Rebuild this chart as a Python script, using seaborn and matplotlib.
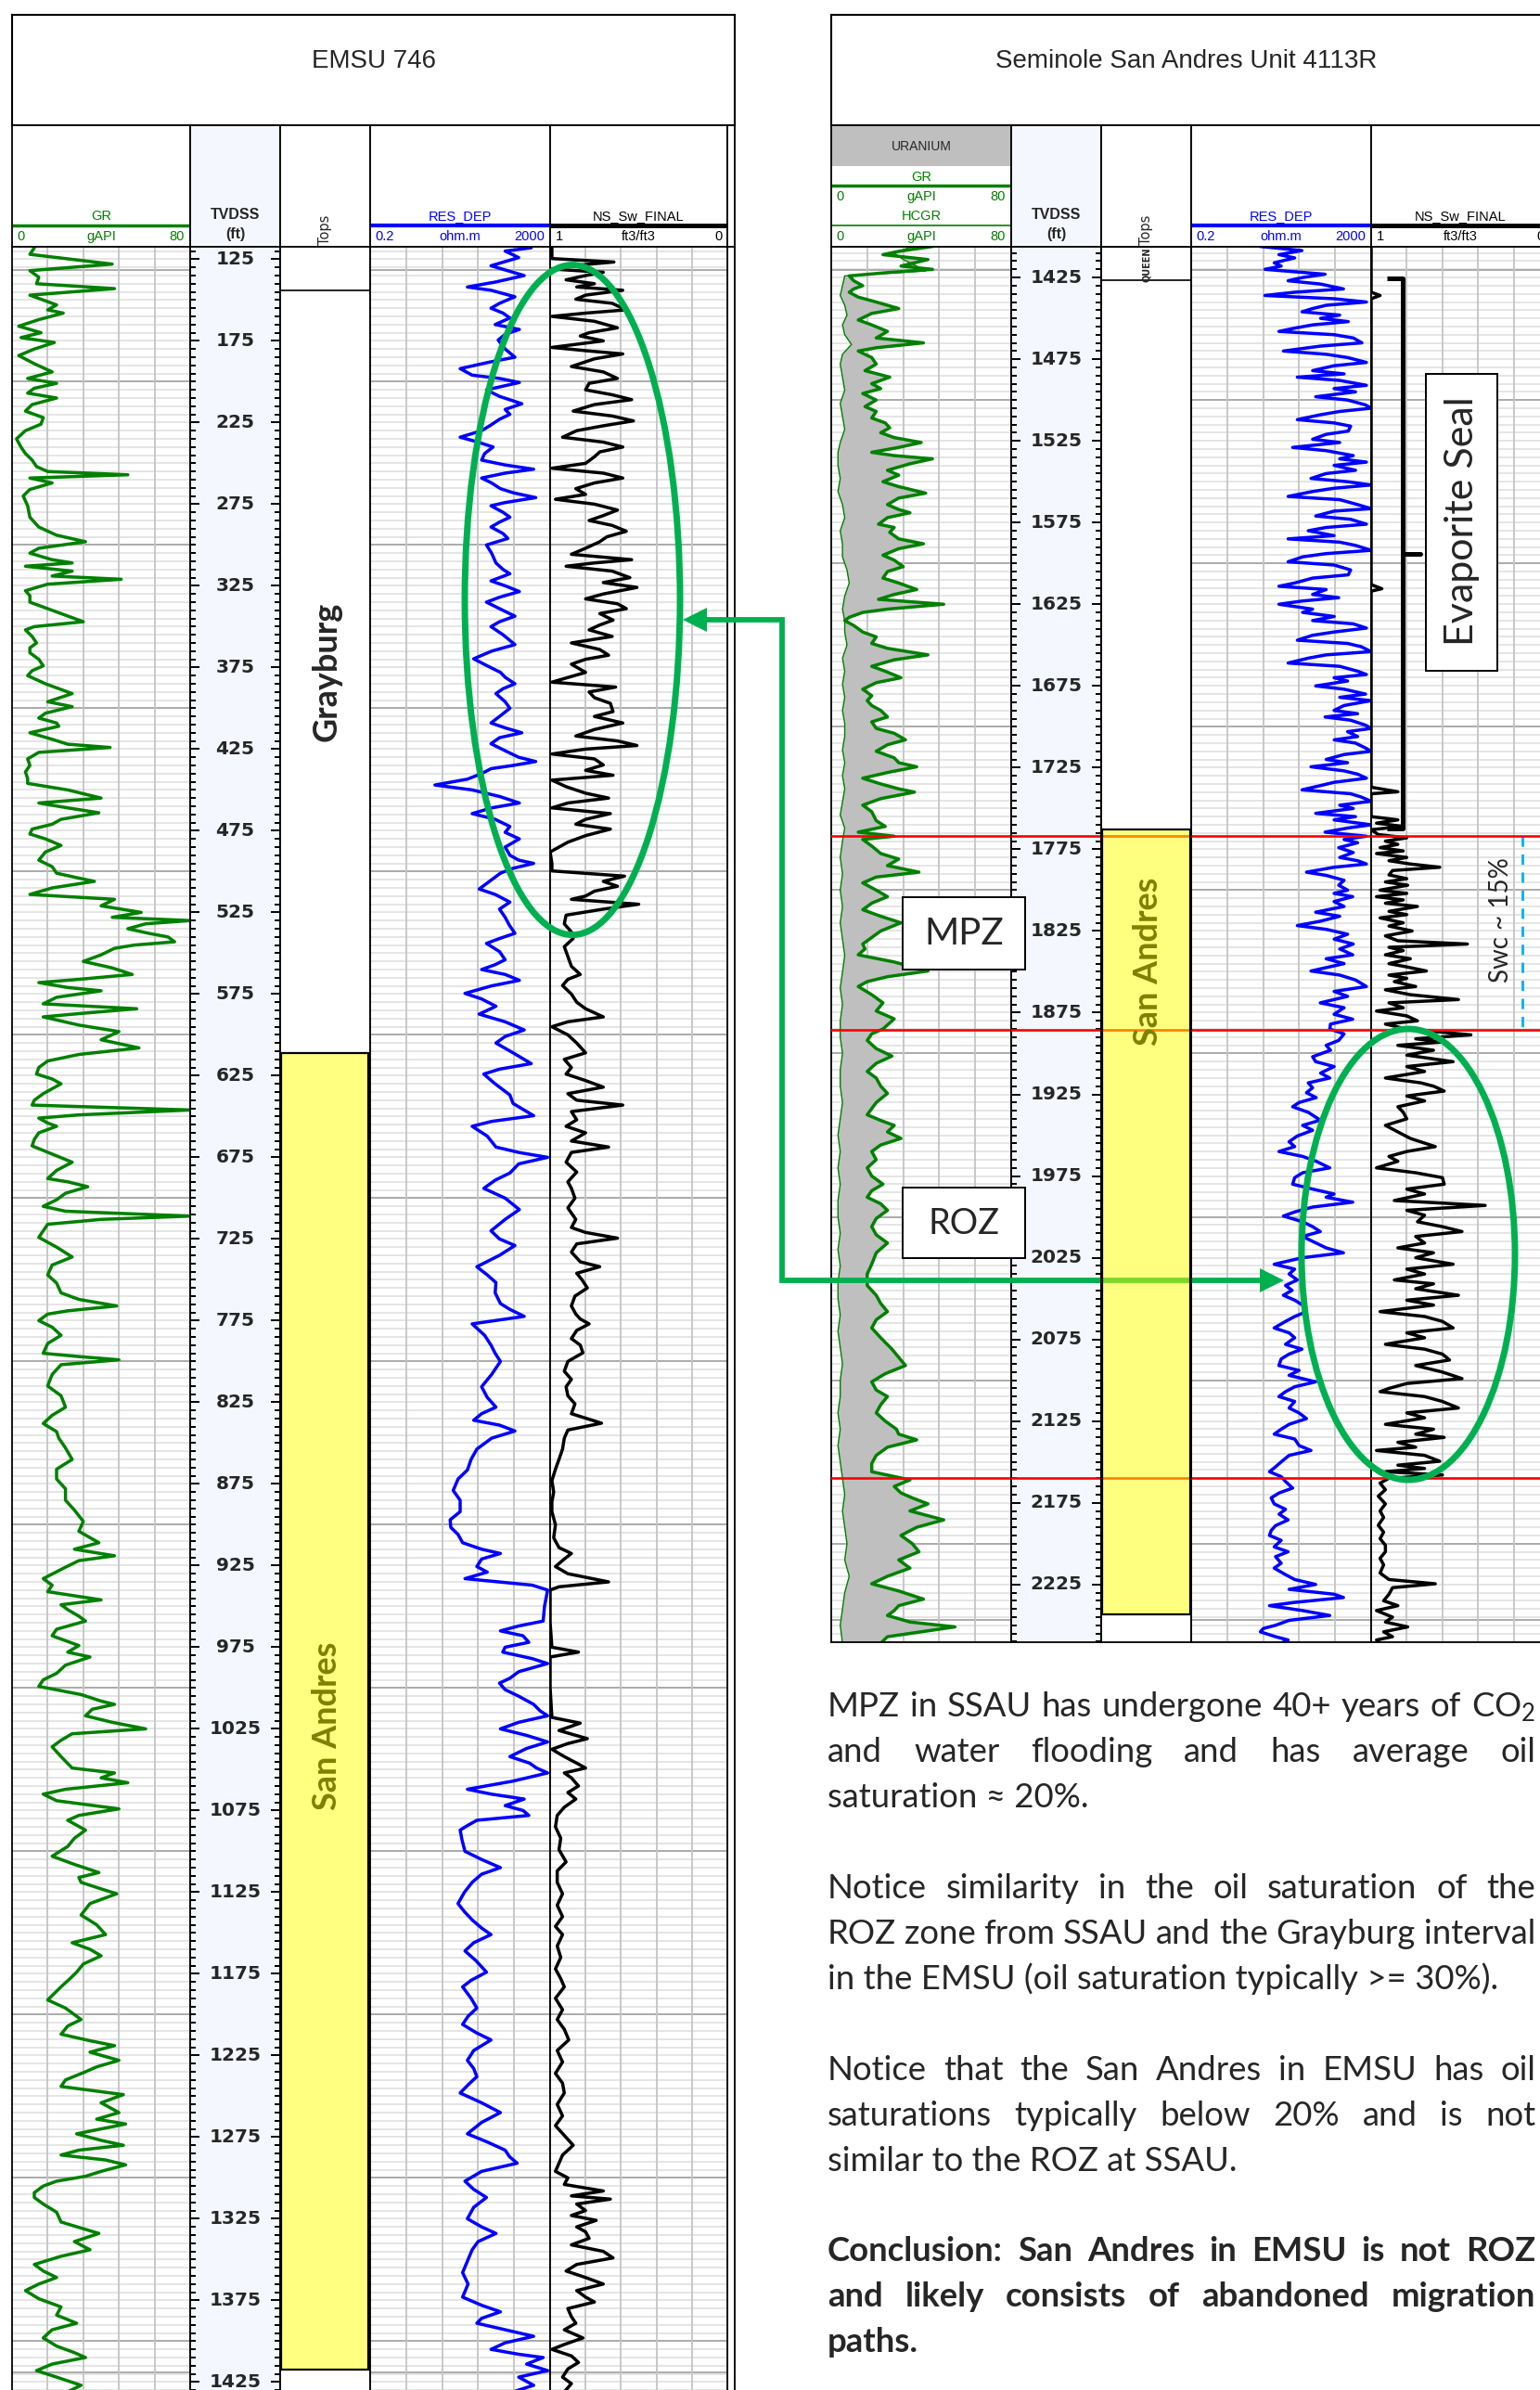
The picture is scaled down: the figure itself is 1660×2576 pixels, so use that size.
import numpy as np
import matplotlib
matplotlib.use("Agg")
import matplotlib.pyplot as plt
from matplotlib import font_manager
from matplotlib.patches import Rectangle, Ellipse, Polygon
from matplotlib.ticker import NullLocator
import seaborn as sns

# ---------------------------------------------------------------------------
# log values: (depth ft TVDSS, value)
# ---------------------------------------------------------------------------
EMSU_GR = [(118,10),(122,8),(128,45),(132,8),(136,12),(140,11),(143,46),(147,8),(150,14),(153,20),(156,16),(158,23),(162,12),(166,3),(170,13),(173,4),(176,19),(180,10),(184,3),(189,10),(194,18),(198,7),(201,20),(204,10),(207,7),(210,20),(214,9),(218,6),(222,14),(226,13),(230,6),(235,2),(240,4),(244,6),(248,9),(252,11),(255,16),(257,52),(259,8),(262,18),(266,8),(270,5),(276,7),(283,8),(289,12),(294,20),(298,33),(302,12),(305,8),(309,18),(311,27),(313,6),(316,27),(319,18),(321,49),(324,16),(328,6),(331,8),(335,8),(339,16),(343,24),(347,32),(350,10),(352,6),(356,9),(360,11),(363,8),(366,8),(370,12),(374,14),(377,9),(380,7),(385,15),(391,27),(396,16),(399,27),(403,15),(406,12),(409,20),(411,21),(415,8),(419,18),(422,25),(424,44),(427,12),(431,7),(435,8),(439,6),(443,7),(446,7),(450,25),(455,40),(458,12),(461,25),(464,39),(468,22),(471,18),(474,9),(477,8),(480,15),(484,22),(488,15),(493,12),(497,18),(501,20),(504,30),(506,37),(510,18),(514,8),(517,46),(521,40),(525,58),(528,45),(530,80),(532,60),(535,52),(538,62),(540,70),(543,73),(545,55),(547,46),(551,40),(555,32),(559,45),(563,54),(566,30),(568,12),(571,25),(573,40),(577,20),(581,14),(584,56),(587,30),(589,14),(594,30),(598,48),(603,40),(608,57),(612,30),(616,16),(620,12),(624,11),(627,18),(630,22),(636,14),(640,10),(643,9),(646,80),(649,30),(651,12),(654,16),(656,20),(660,12),(664,10),(668,9),(673,18),(678,27),(683,20),(688,16),(690,25),(693,34),(697,24),(701,20),(705,14),(708,24),(711,80),(713,40),(716,16),(720,14),(724,12),(730,20),(736,27),(741,18),(747,16),(752,20),(758,22),(762,30),(766,47),(769,25),(771,16),(775,12),(779,18),(784,22),(789,16),(795,14),(797,30),(799,48),(802,22),(808,18),(815,16),(821,22),(828,24),(833,18),(838,14),(843,20),(847,21),(853,24),(860,27),(866,20),(872,20),(878,24),(885,24),(891,28),(898,32),(904,30),(911,39),(915,28),(919,46),(922,30),(926,24),(933,14),(937,18),(941,16),(946,40),(949,22),(952,25),(956,30),(959,33),(964,20),(968,18),(974,30),(978,25),(981,35),(986,24),(991,20),(995,14),(999,12),(1004,31),(1008,40),(1010,46),(1013,36),(1017,33),(1021,45),(1025,60),(1028,27),(1032,22),(1036,18),(1042,22),(1049,27),(1052,46),(1055,40),(1058,52),(1062,24),(1065,14),(1069,20),(1074,48),(1078,30),(1081,25),(1087,33),(1092,28),(1097,25),(1103,18),(1108,28),(1113,39),(1116,30),(1119,31),(1123,40),(1126,47),(1132,35),(1139,31),(1145,38),(1151,42),(1156,27),(1160,35),(1164,40),(1169,32),(1174,29),(1178,26),(1183,22),(1187,19),(1191,16),(1196,24),(1203,31),(1207,25),(1212,22),(1216,35),(1219,46),(1223,35),(1228,48),(1232,38),(1235,33),(1240,24),(1244,22),(1249,50),(1254,40),(1260,48),(1264,38),(1267,51),(1273,29),(1277,40),(1280,50),(1283,30),(1286,22),(1289,42),(1292,51),(1296,40),(1299,33),(1302,20),(1305,14),(1309,10),(1312,10),(1316,14),(1321,20),(1327,22),(1334,39),(1339,28),(1344,35),(1348,22),(1353,10),(1357,14),(1361,20),(1365,12),(1369,6),(1374,12),(1379,22),(1384,20),(1389,29),(1393,18),(1398,14),(1403,20),(1407,28),(1410,33),(1414,18),(1418,11),(1422,20),(1427,31),(1431,25)]

EMSU_RES = [(118,760),(120,200),(124,400),(129,97),(135,530),(139,120),(142,29),(144,97),(148,330),(152,150),(155,97),(158,180),(161,255),(165,120),(168,414),(171,200),(174.5,140),(180,200),(185,330),(188,90),(192,20),(196,37),(198,150),(200.5,414),(205,77),(209,150),(213.5,470),(217,200),(220,255),(223,150),(226.5,97),(230,60),(234,20),(237,50),(240,108),(244,70),(248,60),(251,200),(253.6,860),(256,200),(259,60),(262,100),(265.5,157),(268,300),(271,960),(274,200),(276,97),(280,180),(283,255),(286,150),(289,97),(293,180),(296,230),(300,77),(305,100),(311,125),(315,180),(317.6,255),(322,97),(325,200),(328.5,414),(332,150),(335,77),(339,150),(343.6,330),(347,150),(350,97),(355,180),(361,330),(365,100),(369.7,40),(374,80),(378,157),(381,200),(385,330),(388,180),(391,125),(396,200),(400,255),(405,150),(409,97),(412,200),(415,470),(418,150),(421.7,97),(426,200),(430,400),(432.6,960),(435,300),(437,97),(440,60),(443.4,29),(447,5.5),(450,37),(454,150),(458,414),(461,100),(464.5,37),(468,120),(472.4,255),(476,200),(480,414),(485,200),(490,255),(493,400),(495,860),(498,300),(501,157),(505,100),(510.7,53),(514,120),(518.7,255),(523,150),(528,200),(533,250),(537.8,330),(541,150),(544,77),(549,150),(554,200),(557,120),(560,60),(563,200),(566.6,414),(570,100),(574.6,25.6),(578,60),(582.5,125),(587.3,53),(592,200),(597,530),(601,200),(605,125),(611,300),(617.6,760),(621,150),(624,67),(630,120),(636.8,255),(642,300),(649.5,860),(653,100),(656,37),(662,80),(668.7,125),(672,400),(675,1760),(679,400),(684.6,255),(689,120),(694,67),(700,200),(707,414),(713,200),(720,97),(725,150),(729,330),(735,150),(742,47),(747,80),(751.7,125),(758,120),(764.5,157),(768,250),(772.4,530),(775,120),(777,37),(784,70),(790,97),(795,120),(800,157),(808,100),(815.5,60),(822,80),(828,125),(832,60),(836,40),(839,150),(842.6,330),(847,100),(853.7,47),(860,35),(866.5,29),(872,18),(879,14),(885,20),(892,20),(897,12),(901.6,12.4),(906,18),(911,22.7),(915,60),(917.6,157),(921,60),(925.6,47),(929,80),(933,25.6),(937,800),(940,1760),(950,1500),(959,1400),(962,400),(965,157),(968,500),(972,672),(975,200),(978,177),(982,800),(985,1760),(990,400),(994,255),(997,150),(1001,200),(1005,400),(1010,860),(1014,1200),(1017,1760),(1021,400),(1025,157),(1029,600),(1033,1760),(1037,600),(1042,255),(1046,700),(1049,1000),(1052,1760),(1057,300),(1062,29),(1065,100),(1068,530),(1072,200),(1075,500),(1078,672),(1081,47),(1084,30),(1087,20),(1093,22),(1100,25.6),(1105,60),(1110,157),(1114,60),(1119,37),(1125,25),(1132,17.9),(1137,25),(1142,37),(1147,60),(1151,97),(1156,40),(1161,25.6),(1167,45),(1174,77),(1179,35),(1183,22.7),(1190,35),(1196,47),(1201,30),(1206,22.7),(1211,45),(1215.5,97),(1222,40),(1228,29),(1233,40),(1238,47),(1243,30),(1248,20),(1254,60),(1260,157),(1266,60),(1273,29),(1278,80),(1283,200),(1287,250),(1291,370),(1296,60),(1302,25.6),(1307,40),(1312,77),(1318,40),(1325,29),(1330,60),(1334,125),(1339,50),(1344,37),(1350,30),(1358,22.7),(1365,30),(1373,22.7),(1378,60),(1382,157),(1386,60),(1389,47),(1393,200),(1397,860),(1401,200),(1405,97),(1408,400),(1410,1400),(1414,600),(1418,1760),(1422,400),(1427,860),(1431,300)]

EMSU_SW = [(118,0.99),(122,0.99),(124.6,0.99),(126.7,0.64),(129,0.88),(131,0.99),(133,0.70),(135,0.80),(137.6,0.91),(140,0.75),(142,0.85),(144,0.59),(147,0.80),(149.5,0.855),(152,0.65),(156,0.57),(158,0.80),(160,0.99),(163,0.75),(167,0.62),(170,0.78),(172,0.83),(175,0.70),(179,0.99),(181,0.80),(183,0.59),(186,0.75),(190.7,0.88),(194,0.70),(198,0.62),(201,0.78),(205,0.80),(208,0.65),(211,0.54),(214,0.75),(218,0.87),(221,0.65),(224,0.53),(227,0.70),(230,0.85),(234,0.93),(237,0.70),(240,0.59),(243,0.72),(246,0.75),(250,0.80),(253,0.99),(256,0.70),(259,0.59),(262,0.75),(265.5,0.855),(269,0.80),(272,0.97),(275,0.75),(278.6,0.62),(282,0.70),(285,0.78),(288,0.65),(291.6,0.57),(295,0.68),(298,0.72),(302,0.80),(305.7,0.88),(309,0.54),(311,0.75),(313,0.91),(316,0.65),(320,0.55),(323,0.70),(326,0.51),(330,0.70),(333,0.80),(336,0.62),(339,0.57),(342,0.72),(346,0.645),(349,0.72),(352,0.78),(356,0.65),(360,0.88),(364,0.72),(367.5,0.67),(370,0.80),(373,0.88),(378,0.80),(384,0.99),(387,0.63),(390,0.78),(393.5,0.75),(397,0.66),(402,0.645),(405,0.75),(409,0.59),(413,0.75),(417,0.855),(420,0.62),(422.8,0.51),(425,0.80),(428,0.99),(431,0.75),(434.7,0.70),(438,0.80),(441,0.645),(444,0.99),(448,0.91),(452,0.80),(455,0.67),(458,0.90),(461,0.99),(464.5,0.66),(468,0.80),(471,0.855),(474,0.66),(478,0.80),(482,0.90),(488,1.0),(495,0.99),(499.6,0.99),(502.8,0.58),(506,0.70),(509,0.62),(512,0.75),(515,0.80),(517,0.88),(520,0.50),(523,0.70),(526.7,0.91),(532,0.92),(537,0.88),(541,0.87),(546,0.92),(552,0.90),(558,0.88),(563,0.83),(566,0.90),(569.8,0.93),(575,0.88),(580,0.85),(584,0.80),(589,0.70),(592,0.90),(595,0.99),(600,0.90),(605,0.85),(611,0.80),(615,0.92),(620,0.88),(624,0.91),(628,0.80),(632,0.70),(636,0.90),(640,0.85),(643,0.59),(647,0.88),(652,0.85),(656,0.91),(660,0.80),(665,0.88),(668.7,0.67),(672,0.88),(678,0.91),(684,0.85),(690,0.90),(694,0.88),(700,0.86),(706,0.90),(713,0.855),(718,0.88),(721,0.80),(724.5,0.62),(728,0.85),(733,0.88),(739,0.83),(742,0.72),(746,0.85),(750,0.82),(755,0.79),(760,0.86),(766,0.88),(771,0.855),(774,0.83),(777,0.78),(781,0.85),(786,0.88),(790,0.83),(794.7,0.815),(800,0.90),(806,0.92),(811,0.88),(815.5,0.91),(821,0.90),(826,0.86),(832,0.88),(837.8,0.71),(842,0.90),(847,0.92),(853.7,0.93),(860,0.95),(866,0.97),(873,0.99),(880,0.98),(886,0.99),(892,0.99),(900,0.97),(908,0.98),(914,0.95),(917.6,0.88),(921,0.92),(925.6,0.97),(930,0.90),(935,0.67),(938,0.95),(940,1.0),(960,1.0),(975,0.99),(978,0.84),(981,1.0),(1000,1.0),(1018,0.99),(1021.5,0.83),(1026,0.95),(1031,0.79),(1034,0.90),(1037.5,0.99),(1042,0.92),(1046,0.85),(1049,0.80),(1052,0.92),(1055,0.88),(1060,0.84),(1064,0.90),(1068,0.855),(1073,0.92),(1078,0.96),(1085,0.97),(1092,0.94),(1099,0.95),(1106.5,0.91),(1112,0.96),(1119,0.96),(1126,0.93),(1133,0.96),(1140,0.93),(1146,0.97),(1151,0.93),(1158,0.96),(1165,0.94),(1172,0.97),(1178,0.94),(1183,0.92),(1190,0.97),(1197,0.93),(1203,0.96),(1209,0.92),(1215.5,0.895),(1222,0.96),(1229,0.93),(1236,0.97),(1242,0.93),(1248,0.92),(1255,0.96),(1262,0.93),(1268,0.97),(1274,0.92),(1280,0.87),(1286,0.93),(1291,0.95),(1296,0.97),(1300,0.90),(1304,0.92),(1308,0.70),(1311,0.88),(1313,0.66),(1316,0.85),(1320,0.80),(1323,0.88),(1326,0.74),(1330,0.85),(1333,0.80),(1337,0.78),(1341,0.88),(1345,0.70),(1349,0.645),(1353,0.85),(1357,0.91),(1361,0.80),(1365,0.70),(1369,0.85),(1373,0.80),(1376,0.75),(1380,0.90),(1385,0.88),(1389,0.855),(1393,0.92),(1398,0.815),(1402,0.92),(1405,0.99),(1409,0.88),(1413,0.84),(1417,0.90),(1422,0.93),(1426,0.88),(1431,0.92)]

SSAU_GR = [(1406,45),(1409,30),(1411,23),(1414,43),(1418,31),(1420,45),(1422,25),(1424,8),(1427,10),(1430,14),(1432,10),(1434,8),(1437,12),(1440,20),(1444,30),(1447,18),(1451,12),(1454,18),(1458,25),(1462,20),(1465,41),(1468,20),(1470,12),(1474,18),(1478,20),(1482,15),(1486,26),(1490,18),(1493,22),(1496,14),(1500,20),(1504,15),(1507,20),(1511,18),(1514,24),(1517,26),(1520,22),(1523,28),(1526,40),(1529,30),(1532,18),(1534,28),(1536,45),(1539,35),(1543,25),(1546,30),(1550,23),(1553,30),(1557,42),(1560,30),(1564,25),(1567,30),(1569,35),(1572,25),(1576,21),(1578,28),(1581,26),(1585,30),(1588,41),(1591,30),(1595,23),(1598,28),(1602,32),(1605,25),(1609,23),(1612,30),(1616,38),(1619,28),(1622,21),(1625,50),(1628,25),(1630,14),(1633,8),(1635,6),(1638,10),(1642,14),(1645,20),(1649,18),(1652,25),(1656,43),(1659,28),(1663,18),(1666,24),(1670,31),(1673,20),(1677,14),(1681,18),(1684,16),(1687,18),(1690,22),(1694,25),(1697,18),(1701,20),(1704,28),(1708,33),(1711,25),(1715,20),(1719,28),(1722,30),(1724.5,38),(1728,25),(1731.5,14),(1735,22),(1738,30),(1740,37),(1744,22),(1748,14),(1752,18),(1757.5,20),(1761,24),(1764.5,12),(1767,28),(1769,14),(1773,18),(1777.6,22),(1781,30),(1785,25),(1789,39),(1792,20),(1795.6,14),(1800,20),(1804,25),(1808,18),(1812,14),(1816,22),(1820,31),(1825,22),(1829,18),(1833,14),(1836,15),(1839.6,12),(1844,28),(1849.5,43),(1853,25),(1856,16),(1859,12),(1864,18),(1869,23),(1874,20),(1878.8,28),(1885,23),(1888,18),(1892,16),(1897,20),(1901.6,27),(1906,20),(1911,16),(1915,20),(1920,22),(1924.4,25),(1930,20),(1937.5,16),(1941,22),(1944,28),(1948,25),(1952,31),(1956,22),(1960,18),(1965,20),(1970,16),(1975,18),(1980,23),(1984,18),(1988,16),(1992,22),(1996,25),(2001,20),(2006,18),(2011,20),(2016,25),(2022,20),(2029,18),(2035,16),(2042,16),(2048,20),(2053,22),(2058,25),(2063,20),(2068,18),(2074,22),(2081,27),(2086,30),(2091,33),(2096,24),(2101,18),(2106,20),(2110,25),(2115,22),(2120,20),(2125,24),(2130,29),(2133,30),(2136.5,38),(2141,25),(2146,20),(2151,18),(2156,18),(2161,35),(2165,28),(2169,31),(2172,36),(2175.7,43),(2180,35),(2185.5,50),(2190,38),(2195,31),(2200,36),(2205,39),(2210,30),(2215,35),(2220,25),(2224.6,18),(2229,30),(2234,41),(2238,30),(2241,28),(2244,25),(2248,35),(2251,55),(2254,40),(2257,25),(2261,22)]

SSAU_HCGR = [(1406,36),(1410,28),(1414,32),(1418,38),(1421,42),(1424,6),(1430,5),(1436,4),(1442,6),(1448,7),(1454,5),(1460,6),(1466,9),(1472,5),(1478,4),(1486,5),(1494,6),(1502,4),(1510,5),(1518,6),(1526,4),(1532,3),(1540,3),(1548,4),(1556,3),(1564,5),(1572,6),(1580,4),(1588,5),(1596,5),(1604,7),(1612,8),(1620,6),(1628,5),(1635,6),(1642,6),(1650,7),(1658,5),(1666,6),(1674,5),(1682,6),(1690,5),(1698,6),(1706,6),(1714,5),(1722,6),(1730,5),(1738,6),(1746,5),(1754,4),(1762,6),(1770,5),(1780,4),(1790,5),(1800,4),(1810,5),(1820,4),(1830,5),(1840,6),(1850,5),(1860,4),(1870,5),(1880,4),(1890,4),(1900,5),(1910,4),(1920,4),(1930,5),(1940,4),(1950,3),(1960,4),(1970,3),(1980,4),(1990,3),(2000,3),(2010,4),(2020,3),(2030,4),(2040,3),(2050,3),(2060,4),(2070,3),(2080,4),(2090,5),(2100,4),(2110,4),(2120,3),(2130,4),(2140,3),(2150,4),(2160,5),(2170,6),(2180,5),(2190,6),(2200,7),(2210,6),(2220,8),(2230,6),(2240,5),(2250,4),(2261,5)]

SSAU_RES = [(1406,6.9),(1408.5,58),(1411,17.8),(1413,40),(1416,14),(1418,20),(1420,8.7),(1423,189),(1425,60),(1427,28.5),(1429,150),(1432,485),(1434,40),(1436,8.7),(1438,300),(1440,1570),(1442,200),(1444,100),(1446,58),(1448,400),(1450,150),(1452,620),(1454,100),(1456,40),(1458,17.8),(1460,300),(1462,800),(1465,1247),(1467,150),(1470,22.4),(1472,200),(1474,600),(1477,1570),(1479,300),(1482,100),(1484,500),(1486,45.7),(1488,400),(1491,1570),(1493,300),(1495,900),(1498,117),(1500,600),(1503,1500),(1505,2000),(1507,400),(1509,150),(1512,45.7),(1514,300),(1516,700),(1519,620),(1521,200),(1524,100),(1526,400),(1529,36),(1531,200),(1534,800),(1536,400),(1538,1570),(1540,300),(1543,900),(1545,200),(1548,92),(1550,600),(1552,2000),(1554,300),(1556,100),(1559,28.5),(1561,400),(1564,1000),(1566.5,2000),(1568,300),(1571,117),(1573,700),(1576,1570),(1578,200),(1580,80),(1583,300),(1585,28.5),(1587,400),(1589,900),(1592,2000),(1594,200),(1596,60),(1599,28.5),(1601,300),(1604,700),(1607,620),(1609,100),(1612,40),(1614,17.8),(1616,200),(1619,100),(1621,380),(1623,60),(1625,17.8),(1628,100),(1630,60),(1632.5,302),(1635,100),(1637,800),(1639.6,1570),(1642,300),(1644,100),(1647,45.7),(1649,600),(1651,1200),(1654,2000),(1656,200),(1658,80),(1661,28.5),(1663,400),(1666,1000),(1668,1570),(1670,300),(1672,600),(1675,117),(1677,500),(1680,1500),(1682,400),(1684,2000),(1687,500),(1690,300),(1692,1000),(1694,189),(1696,700),(1699,1500),(1701,2000),(1703,600),(1706,1000),(1708,302),(1710,900),(1713,1500),(1715,2000),(1717,500),(1720,200),(1722,600),(1724.5,92),(1727,500),(1729,1000),(1731.5,1570),(1734,300),(1736,150),(1738.6,58),(1741,700),(1743,1200),(1745.6,2000),(1748,400),(1750,800),(1753,117),(1755,900),(1757,300),(1760,2000),(1762,600),(1764.5,189),(1767,1570),(1769,500),(1771,1000),(1774,380),(1777,800),(1780,400),(1782,1000),(1784,1570),(1786,300),(1789,73),(1791,200),(1794,500),(1797,380),(1800,600),(1802,300),(1804,778),(1807,300),(1810,500),(1813.5,117),(1816,400),(1819,150),(1821.7,45.7),(1824,200),(1827,600),(1830,302),(1833,800),(1836,400),(1839.6,778),(1842,200),(1845,500),(1849.5,92),(1852,400),(1855,900),(1859,1570),(1862,300),(1865,600),(1869,148),(1872,500),(1876,300),(1879,778),(1882,250),(1885,240),(1888,500),(1892,380),(1895,200),(1898,250),(1902,100),(1905,117),(1908,300),(1912,150),(1915,240),(1918,80),(1921,100),(1924,73),(1927,120),(1930,50),(1932.6,36),(1936,80),(1940.8,148),(1944,60),(1947,100),(1950.5,45.7),(1954,30),(1957,40),(1960,17.8),(1963,60),(1966,120),(1970,240),(1973,60),(1976,40),(1980,36),(1983,100),(1986,300),(1988,200),(1991,778),(1994,100),(1997,40),(1999.5,22.4),(2003,60),(2006,100),(2009,148),(2012,60),(2015,100),(2019,200),(2022,485),(2025,60),(2029,14),(2032,40),(2035,30),(2038.6,45.7),(2042,25),(2045,35),(2048,22.4),(2051,40),(2054,60),(2058,73),(2061,40),(2064,25),(2068,14),(2071,30),(2074,40),(2078,25),(2081,58),(2084,30),(2087,20),(2091,17.8),(2094,50),(2097,30),(2101,117),(2104,40),(2107,25),(2110,17.8),(2113,40),(2117,30),(2120,50),(2123.5,73),(2127,30),(2130,20),(2133,14),(2136,40),(2140,50),(2143,92),(2146,30),(2150,20),(2153,15),(2156,11),(2159,20),(2162,25),(2166,36),(2169,18),(2172,12),(2175.7,14),(2179,25),(2182,18),(2185.5,28.5),(2189,15),(2192,12),(2195,11),(2198,20),(2202,14),(2205,28.5),(2208,15),(2212,20),(2215,14),(2219,25),(2222,40),(2225,117),(2228,30),(2231,300),(2233,485),(2236,40),(2238,11),(2241,60),(2244,240),(2247,30),(2250,15),(2252,8),(2254,6.9),(2257,15),(2259,28.5),(2261,20)]

SSAU_SW = [(1406,1.0),(1434,1.0),(1436,0.95),(1438,1.0),(1613,1.0),(1615.5,0.94),(1617,1.0),(1737,1.0),(1739.8,0.85),(1741,1.0),(1755,1.0),(1757,0.85),(1759,0.97),(1761,0.82),(1763,1.0),(1766,0.96),(1768,0.80),(1770,0.92),(1772,0.85),(1774,0.95),(1776,0.82),(1777.6,0.97),(1780,0.80),(1782,0.90),(1784,0.78),(1786,0.615),(1788,0.88),(1790.7,0.90),(1793,0.80),(1795,0.92),(1797,0.795),(1800,0.95),(1802,0.80),(1804,0.97),(1806,0.82),(1808,0.92),(1810,0.74),(1813,0.90),(1815,0.80),(1817,0.95),(1820,0.82),(1822,0.90),(1825,0.77),(1828,0.92),(1831,0.85),(1833,0.46),(1835,0.90),(1837,0.82),(1839.6,0.92),(1842,0.78),(1845,0.90),(1847,0.80),(1849.5,0.69),(1852,0.90),(1854,0.80),(1856,0.87),(1859,0.75),(1861,0.92),(1864,0.78),(1867,0.51),(1869,0.90),(1872,0.82),(1874,0.97),(1877,0.80),(1880,0.74),(1882,0.92),(1885,0.80),(1888.6,0.44),(1891,0.75),(1893,0.60),(1895,0.85),(1898,0.65),(1901,0.80),(1905,0.54),(1908,0.80),(1911,0.70),(1915,0.92),(1918,0.72),(1920,0.65),(1923,0.59),(1926,0.80),(1929,0.70),(1932.6,0.85),(1936,0.82),(1940,0.80),(1944,0.92),(1948,0.85),(1952,0.78),(1957,0.64),(1960,0.80),(1963,0.90),(1966,0.85),(1970,0.97),(1973,0.75),(1976,0.60),(1980,0.59),(1983,0.80),(1986,0.70),(1990,0.87),(1993,0.36),(1996,0.80),(1999,0.70),(2003,0.74),(2006,0.60),(2009,0.49),(2012,0.75),(2016,0.70),(2019,0.85),(2022,0.65),(2025,0.75),(2029,0.54),(2032,0.80),(2035,0.70),(2038.6,0.87),(2041,0.65),(2044,0.75),(2048,0.51),(2051,0.80),(2054,0.65),(2058,0.95),(2061,0.70),(2064,0.60),(2068,0.54),(2071,0.80),(2074,0.70),(2078,0.92),(2081,0.70),(2084,0.60),(2087.6,0.56),(2091,0.75),(2095,0.60),(2099,0.49),(2102,0.80),(2105,0.90),(2107,0.95),(2110,0.70),(2113,0.60),(2117,0.51),(2120,0.80),(2123,0.70),(2127,0.92),(2130,0.65),(2133,0.75),(2135,0.59),(2138,0.85),(2141,0.75),(2143,0.97),(2146,0.70),(2149.6,0.615),(2152,0.85),(2154,0.70),(2156,0.92),(2158,0.60),(2160,0.90),(2163,0.95),(2167,0.92),(2171,0.96),(2175.7,0.92),(2180,0.95),(2184,0.93),(2188.8,0.96),(2193,0.93),(2197,0.95),(2201,0.92),(2205,0.92),(2209,0.95),(2213,0.93),(2218,0.95),(2222,0.90),(2224.6,0.64),(2227,0.88),(2231,0.90),(2235,0.93),(2238,0.85),(2241,0.97),(2245,0.88),(2248,0.92),(2251,0.795),(2254,0.93),(2257,0.88),(2259,0.97),(2261,0.95)]

EMSU_DEPTH_LABELS = list(range(125, 1426, 50))
SSAU_DEPTH_LABELS = list(range(1425, 2226, 50))

# formation tops (ft)
EMSU_GRAYBURG_TOP, EMSU_SA_TOP, EMSU_SA_BASE = 144.3, 611.3, 1417.6
SSAU_QUEEN_TOP, SSAU_SA_TOP, SSAU_SA_BASE = 1426.5, 1763.0, 2243.5
ZONE_LINES = [1767.0, 1885.5, 2160.0]      # MPZ top, MPZ/ROZ, ROZ base
SWC = 0.15

PARAGRAPHS = [
    (["MPZ in SSAU has undergone 40+ years of CO$_2$",
      "and water flooding and has average oil",
      "saturation \u2248 20%."], "normal"),
    (["Notice similarity in the oil saturation of the",
      "ROZ zone from SSAU and the Grayburg interval",
      "in the EMSU (oil saturation typically >= 30%)."], "normal"),
    (["Notice that the San Andres in EMSU has oil",
      "saturations typically below 20% and is not",
      "similar to the ROZ at SSAU."], "normal"),
    (["Conclusion: San Andres in EMSU is not ROZ",
      "and likely consists of abandoned migration",
      "paths."], "bold"),
]

# ---------------------------------------------------------------------------
W, H = 1660, 2576
sns.set_theme(style="white")
names = {f.name for f in font_manager.fontManager.ttflist}
NARROW = "Liberation Sans Narrow" if "Liberation Sans Narrow" in names else "Liberation Sans"
BODY = "Lato" if "Lato" in names else "Open Sans"
plt.rcParams["font.family"] = ["DejaVu Sans"]
plt.rcParams["mathtext.fontset"] = "custom"
plt.rcParams["mathtext.rm"] = BODY
plt.rcParams["mathtext.it"] = BODY + ":italic"
plt.rcParams["mathtext.bf"] = BODY + ":bold"

GREEN, BLUE = "#008000", "#0000FF"
ANNOT = "#00B050"
LW = 2.5

fig = plt.figure(figsize=(W / 100, H / 100), dpi=100)
renderer = fig.canvas.get_renderer()


def box(x0, y0, x1, y1, **kw):
    return fig.add_axes([x0 / W, 1 - y1 / H, (x1 - x0) / W, (y1 - y0) / H], **kw)


def frame(ax, lw=1.3):
    ax.set_xticks([])
    ax.set_yticks([])
    ax.xaxis.set_minor_locator(NullLocator())
    ax.yaxis.set_minor_locator(NullLocator())
    for s in ax.spines.values():
        s.set_visible(True)
        s.set_color("black")
        s.set_linewidth(lw)


def fit(text, target, **kw):
    t = fig.text(0, 0, text, fontsize=40, **kw)
    w = t.get_window_extent(renderer).width
    t.remove()
    return 40 * target / w


def pts(data):
    d, v = zip(*data)
    return np.array(d, float), np.array(v, float)


HDR0, HDR1, DATA0 = 135, 266, 266


def log_track(x0, x1, y1, dtop, dbot, refs):
    ax = box(x0, DATA0, x1, y1)
    frame(ax)
    ytr = ax.get_yaxis_transform()
    minor = np.arange(np.ceil(dtop / 5) * 5, dbot, 5)
    ax.hlines(minor, 0, 1, transform=ytr, colors="#E0E0E0", lw=1.2, zorder=0)
    major = [d for d in range(100, int(dbot) + 1, 100) if d > dtop] + refs
    ax.hlines(major, 0, 1, transform=ytr, colors="#A6A6A6", lw=1.3, zorder=0)
    ax.vlines([0.2, 0.4, 0.6, 0.8], 0, 1, transform=ax.transAxes, colors="#C4C4C4", lw=1.3, zorder=0)
    return ax


def draw_curve(ax, data, color, lw):
    d, v = pts(data)
    sns.lineplot(x=v, y=d, orient="y", sort=False, estimator=None, color=color,
                 lw=lw, ax=ax, legend=False)
    ax.set_xlabel("")
    ax.set_ylabel("")


def depth_track(x0, x1, y1, dtop, dbot, labels):
    ax = box(x0, DATA0, x1, y1)
    ax.set_facecolor("#F4F7FD")
    for s in ax.spines.values():
        s.set_visible(True)
        s.set_color("black")
        s.set_linewidth(1.3)
    ax.set_xlim(0, 1)
    ax.set_ylim(dbot, dtop)
    ax.set_xticks([])
    ax.set_yticks(labels)
    ax.set_yticks(np.arange(np.ceil(dtop / 5) * 5, dbot, 5), minor=True)
    ax.tick_params(axis="y", which="both", direction="in", left=True, right=True,
                   labelleft=False, labelright=False, color="black", width=1.4)
    ax.tick_params(axis="y", which="major", length=7.5)
    ax.tick_params(axis="y", which="minor", length=4.5)
    for d in labels:
        ax.text(0.5, d, str(d), transform=ax.get_yaxis_transform(), ha="center", va="center",
                fontsize=14.5, fontweight="bold", family="DejaVu Sans")
    return ax


def header(x0, x1, face="white"):
    ax = box(x0, HDR0, x1, HDR1)
    frame(ax)
    ax.set_facecolor(face)
    ax.set_xlim(0, 1)
    ax.set_ylim(HDR1, HDR0)
    return ax


def curve_header(ax, name, color, left, unit, right, y_name=233, y_line=243, y_scale=255, lw=2.5):
    kw = dict(color=color, va="center", fontsize=10.5, family=NARROW)
    ax.text(0.5, y_name, name, ha="center", **kw)
    ax.plot([0, 1], [y_line, y_line], color=color, lw=lw, solid_capstyle="butt")
    ax.text(0.03, y_scale, left, ha="left", **kw)
    ax.text(0.5, y_scale, unit, ha="center", **kw)
    ax.text(0.97, y_scale, right, ha="right", **kw)


def depth_header(x0, x1):
    h = header(x0, x1, face="#F4F7FD")
    for y, s in [(231, "TVDSS"), (253, "(ft)")]:
        h.text(0.5, y, s, ha="center", va="center", fontsize=11.5, fontweight="bold",
               family="Liberation Sans")


def title_box(x0, x1, text):
    ax = box(x0, 16, x1, HDR0)
    frame(ax, 1.5)
    ax.text(0.5, 0.58, text, transform=ax.transAxes, ha="center", va="center",
            fontsize=20, family="Liberation Sans")


def tops_header(x0, x1):
    ax = header(x0, x1)
    ax.text(0.5, 264, "Tops", rotation=90, ha="center", va="bottom", fontsize=10.5,
            family="DejaVu Sans")


# ---------------------------------------------------------------------------
# EMSU 746
# ---------------------------------------------------------------------------
E_X = [13, 205, 302, 399, 593, 784]
e_top = 125 + (DATA0 - 279.4) / 1.760
e_bot = 125 + (H + 2 - 279.4) / 1.760
title_box(13, 792, "EMSU 746")

h = header(E_X[0], E_X[1])
curve_header(h, "GR", GREEN, "0", "gAPI", "80")
depth_header(E_X[1], E_X[2])
tops_header(E_X[2], E_X[3])
h = header(E_X[3], E_X[4])
curve_header(h, "RES_DEP", BLUE, "0.2", "ohm.m", "2000", lw=3)
h = header(E_X[4], E_X[5])
curve_header(h, "NS_Sw_FINAL", "black", "1", "ft3/ft3", "0", lw=3.5)
header(784, 792)
edge = box(784, DATA0, 792, H + 2)
frame(edge)

ax = log_track(E_X[0], E_X[1], H + 2, e_top, e_bot, [131.6, 1419.0])
draw_curve(ax, EMSU_GR, GREEN, LW)
ax.set_xlim(0, 80)
ax.set_ylim(e_bot, e_top)

depth_track(E_X[1], E_X[2], H + 2, e_top, e_bot, EMSU_DEPTH_LABELS)

ax = box(E_X[2], DATA0, E_X[3], H + 2)
frame(ax)
ax.set_xlim(0, 1)
ax.set_ylim(e_bot, e_top)
ax.axhline(EMSU_GRAYBURG_TOP, color="black", lw=1.2)
ax.add_patch(Rectangle((0.01, EMSU_SA_TOP), 0.97, EMSU_SA_BASE - EMSU_SA_TOP,
                       facecolor="#FFFF80", edgecolor="black", lw=1.6))
ax.text(0.52, 377.8, "Grayburg", rotation=90, ha="center", va="center", fontweight="bold",
        fontsize=fit("Grayburg", 150, family=BODY, fontweight="bold"), family=BODY)
ax.text(0.52, 1023, "San Andres", rotation=90, ha="center", va="center", fontweight="bold",
        color="#808000", fontsize=fit("San Andres", 181, family=BODY, fontweight="bold"), family=BODY)

ax = log_track(E_X[3], E_X[4], H + 2, e_top, e_bot, [131.6, 1419.0])
ax.set_xscale("log")
draw_curve(ax, EMSU_RES, BLUE, LW)
ax.set_xlim(0.2, 2000)
ax.set_ylim(e_bot, e_top)
frame(ax)

ax = log_track(E_X[4], E_X[5], H + 2, e_top, e_bot, [131.6, 1419.0])
draw_curve(ax, EMSU_SW, "black", LW)
ax.set_xlim(1, 0)
ax.set_ylim(e_bot, e_top)

# ---------------------------------------------------------------------------
# Seminole San Andres Unit 4113R
# ---------------------------------------------------------------------------
S_X = [896, 1090, 1187, 1284, 1478, 1670]
S_BOT = 1770
s_top = 1425 + (DATA0 - 299.1) / 1.7608
s_bot = 1425 + (S_BOT - 299.1) / 1.7608
title_box(896, 1662, "Seminole San Andres Unit 4113R")

h = header(S_X[0], S_X[1])
h.add_patch(Rectangle((0, 136), 1, 43, facecolor="#BFBFBF", edgecolor="none"))
h.text(0.5, 158, "URANIUM", ha="center", va="center", fontsize=10, family=NARROW)
curve_header(h, "GR", GREEN, "0", "gAPI", "80", y_name=191, y_line=200, y_scale=212, lw=2.5)
curve_header(h, "HCGR", GREEN, "0", "gAPI", "80", lw=1.2)
depth_header(S_X[1], S_X[2])
tops_header(S_X[2], S_X[3])
h = header(S_X[3], S_X[4])
curve_header(h, "RES_DEP", BLUE, "0.2", "ohm.m", "2000", lw=3)
h = header(S_X[4], S_X[5])
curve_header(h, "NS_Sw_FINAL", "black", "1", "ft3/ft3", "0", lw=3.5)

s_refs = [1420.4, 2247.0]
ax = log_track(S_X[0], S_X[1], S_BOT, s_top, s_bot, s_refs)
gd, gv = pts(SSAU_GR)
hd, hv = pts(SSAU_HCGR)
ax.fill(np.r_[gv, hv[::-1]], np.r_[gd, hd[::-1]], color="#BFBFBF", lw=0, zorder=1)
draw_curve(ax, SSAU_HCGR, GREEN, 1.0)
draw_curve(ax, SSAU_GR, GREEN, LW)
ax.set_xlim(0, 80)
ax.set_ylim(s_bot, s_top)
for d in ZONE_LINES:
    ax.axhline(d, color="red", lw=1.9, zorder=5)

ax = depth_track(S_X[1], S_X[2], S_BOT, s_top, s_bot, SSAU_DEPTH_LABELS)
for d in ZONE_LINES:
    ax.axhline(d, color="red", lw=1.9, zorder=5)

ax = log_track(S_X[3], S_X[4], S_BOT, s_top, s_bot, s_refs)
ax.set_xscale("log")
draw_curve(ax, SSAU_RES, BLUE, LW)
ax.set_xlim(0.2, 2000)
ax.set_ylim(s_bot, s_top)
frame(ax)
for d in ZONE_LINES:
    ax.axhline(d, color="red", lw=1.9, zorder=5)

ax = log_track(S_X[4], S_X[5], S_BOT, s_top, s_bot, s_refs)
draw_curve(ax, SSAU_SW, "black", LW)
ax.vlines(SWC, ZONE_LINES[0], ZONE_LINES[1], colors="#00B0F0", lw=2.0, linestyles=(0, (4, 3)))
ax.set_xlim(1, 0)
ax.set_ylim(s_bot, s_top)
for d in ZONE_LINES:
    ax.axhline(d, color="red", lw=1.9, zorder=5)
ax.text(0.27, (ZONE_LINES[0] + ZONE_LINES[1]) / 2 - 8, "Swc ~ 15%", rotation=90, ha="center",
        va="center", family=BODY, fontsize=fit("Swc ~ 15%", 135, family=BODY))

# ---------------------------------------------------------------------------
# annotation layer (pixel coordinates)
# ---------------------------------------------------------------------------
ovl = box(0, 0, W, H, zorder=3)
ovl.set_xlim(0, W)
ovl.set_ylim(H, 0)
ovl.axis("off")
ovl.patch.set_alpha(0)

ovl.add_patch(Ellipse((617, 646.6), 232, 722, fill=False, ec=ANNOT, lw=5))
ovl.add_patch(Ellipse((1518, 1352), 230, 486, fill=False, ec=ANNOT, lw=5))
ovl.plot([755, 843, 843, 1362], [668, 668, 1380, 1380], color=ANNOT, lw=4.2,
         solid_joinstyle="miter", solid_capstyle="butt")
ovl.add_patch(Polygon([[736, 668], [762, 655], [762, 681]], closed=True, color=ANNOT, lw=0))
ovl.add_patch(Polygon([[1384, 1380], [1358, 1367], [1358, 1393]], closed=True, color=ANNOT, lw=0))

for (y0, y1, label, wd) in [(967.2, 1044.6, "MPZ", 86), (1279.5, 1355.9, "ROZ", 77)]:
    ovl.add_patch(Rectangle((973, y0), 131.5, y1 - y0, facecolor="white", edgecolor="black", lw=1.4))
    ovl.text(1038.7, (y0 + y1) / 2 + 1, label, ha="center", va="center", family=BODY,
             fontsize=fit(label, wd, family=BODY))

# evaporite seal bracket + label
ovl.plot([1495, 1512, 1512, 1495], [300, 300, 893, 893], color="black", lw=3.6,
         solid_joinstyle="round", solid_capstyle="butt")
ovl.plot([1512, 1531], [596.7, 596.7], color="black", lw=3.6, solid_capstyle="round")
ovl.add_patch(Rectangle((1536.8, 402.7), 77.2, 320.5, facecolor="white", edgecolor="black", lw=1.4))
ovl.text(1576, 562, "Evaporite Seal", rotation=90, ha="center", va="center", family=BODY,
         fontsize=fit("Evaporite Seal", 270, family=BODY))

# justified text block
TX0, TX1, BASE0, PITCH = 892, 1655, 1850, 48.95
size = fit("in the EMSU (oil saturation typically >= 30%).", 724, family=[BODY, "DejaVu Sans"])
line_no = 0
for lines, weight in PARAGRAPHS:
    for i, line in enumerate(lines):
        y = BASE0 + line_no * PITCH
        kw = dict(family=[BODY, "DejaVu Sans"], fontsize=size, fontweight=weight, va="baseline")
        if i == len(lines) - 1:
            ovl.text(TX0, y, line, ha="left", **kw)
        else:
            words = line.split(" ")
            widths = []
            for w in words:
                t = ovl.text(0, 0, w, **kw)
                widths.append(t.get_window_extent(renderer).width)
                t.remove()
            gap = (TX1 - TX0 - sum(widths)) / (len(words) - 1)
            x = TX0
            for w, wd in zip(words, widths):
                ovl.text(x, y, w, ha="left", **kw)
                x += wd + gap
        line_no += 1
    line_no += 1

# SSAU tops track sits above the annotation layer (yellow tints the arrow)
ax = box(S_X[2], DATA0, S_X[3], S_BOT, zorder=4)
frame(ax)
ax.patch.set_alpha(0)
ax.set_xlim(0, 1)
ax.set_ylim(s_bot, s_top)
for d in ZONE_LINES:
    ax.axhline(d, color="red", lw=1.9, zorder=2)
ax.axhline(SSAU_QUEEN_TOP, color="black", lw=1.2)
ax.add_patch(Rectangle((0.01, SSAU_SA_TOP), 0.98, SSAU_SA_BASE - SSAU_SA_TOP,
                       facecolor="#FFFF00", alpha=0.5, edgecolor="none", zorder=3))
ax.add_patch(Rectangle((0.01, SSAU_SA_TOP), 0.98, SSAU_SA_BASE - SSAU_SA_TOP,
                       fill=False, edgecolor="black", lw=1.6, zorder=4))
ax.text(0.5, (s_top + SSAU_QUEEN_TOP) / 2 + 1, "QUEEN", rotation=90, ha="center", va="center",
        fontsize=7, fontweight="bold", family="DejaVu Sans")
ax.text(0.52, 1843.6, "San Andres", rotation=90, ha="center", va="center", fontweight="bold",
        color="#808000", zorder=5, family=BODY,
        fontsize=fit("San Andres", 181, family=BODY, fontweight="bold"))

fig.savefig("out.png", dpi=100)
